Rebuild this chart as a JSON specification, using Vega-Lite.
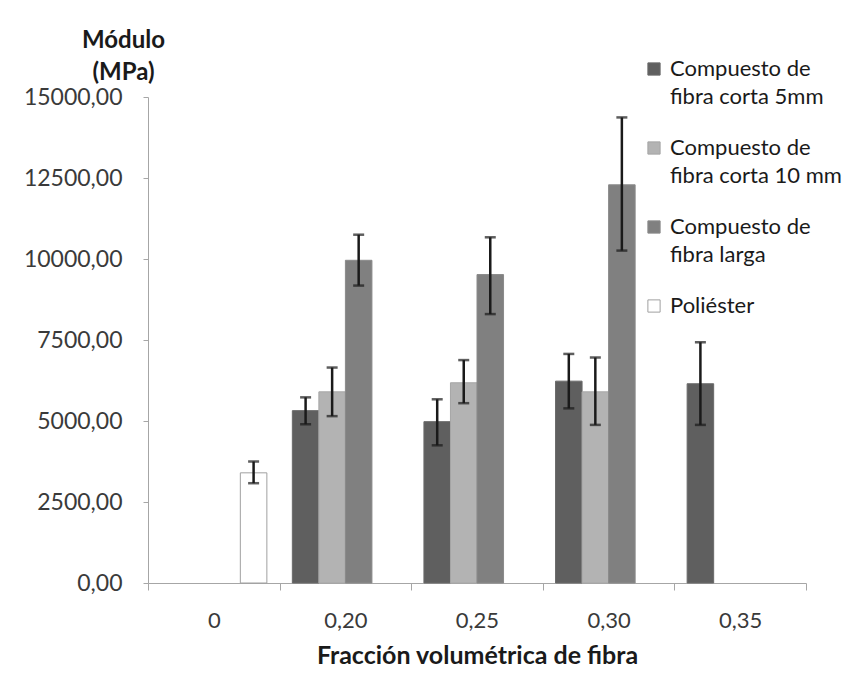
{
  "$schema": "https://vega.github.io/schema/vega-lite/v6.json",
  "width": 658,
  "height": 486,
  "autosize": {"type": "none"},
  "padding": {"left": 148, "top": 97, "right": 51, "bottom": 98},
  "background": "white",
  "config": {
    "view": {"stroke": null},
    "font": "Lato",
    "style": {"guide-label": {"lineHeight": 28}},
    "axis": {"grid": false, "domainColor": "#a6a6a6", "tickColor": "#a6a6a6", "labelColor": "#3a3a3a", "labelFontSize": 22, "titleFontSize": 24, "titleColor": "#1a1a1a", "titleFontWeight": "bold", "labelFont": "Lato", "titleFont": "Lato"}
  },
  "data": {
    "values": [
      {"fraccion": "0", "serie": "Poliéster", "valor": 3400, "lo": 3080, "hi": 3750},
      {"fraccion": "0,20", "serie": "5mm", "valor": 5320, "lo": 4900, "hi": 5730},
      {"fraccion": "0,20", "serie": "10mm", "valor": 5900, "lo": 5150, "hi": 6650},
      {"fraccion": "0,20", "serie": "larga", "valor": 9960, "lo": 9180, "hi": 10750},
      {"fraccion": "0,25", "serie": "5mm", "valor": 4980, "lo": 4250, "hi": 5670},
      {"fraccion": "0,25", "serie": "10mm", "valor": 6180, "lo": 5550, "hi": 6880},
      {"fraccion": "0,25", "serie": "larga", "valor": 9520, "lo": 8300, "hi": 10670},
      {"fraccion": "0,30", "serie": "5mm", "valor": 6230, "lo": 5390, "hi": 7070},
      {"fraccion": "0,30", "serie": "10mm", "valor": 5900, "lo": 4880, "hi": 6960},
      {"fraccion": "0,30", "serie": "larga", "valor": 12290, "lo": 10260, "hi": 14370},
      {"fraccion": "0,35", "serie": "5mm", "valor": 6150, "lo": 4880, "hi": 7430}
    ]
  },
  "encoding": {
    "x": {
      "field": "fraccion", "type": "nominal",
      "sort": ["0", "0,20", "0,25", "0,30", "0,35"],
      "scale": {"domain": ["0", "0,20", "0,25", "0,30", "0,35"], "paddingInner": 0, "paddingOuter": 0},
      "axis": {"title": "Fracción volumétrica de fibra", "titleFontSize": 25, "labelAngle": 0, "tickBand": "extent", "tickSize": 7, "labelPadding": 20, "titlePadding": 12}
    },
    "xOffset": {
      "field": "serie", "type": "nominal",
      "scale": {"domain": ["5mm", "10mm", "larga", "Poliéster"], "paddingInner": 0, "paddingOuter": 0.48}
    }
  },
  "layer": [
    {
      "mark": {"type": "bar", "strokeWidth": 1},
      "encoding": {
        "y": {
          "field": "valor", "type": "quantitative",
          "scale": {"domain": [0, 15000], "nice": false},
          "axis": {
            "values": [0, 2500, 5000, 7500, 10000, 12500, 15000],
            "labelExpr": "replace(format(datum.value, '.2f'), '.', ',')",
            "labelFontSize": 23,
            "tickSize": 5, "labelPadding": 21,
            "title": ["Módulo", "(MPa)"],
            "titleAngle": 0, "titleAlign": "center", "titleBaseline": "alphabetic",
            "titleX": -25, "titleY": -50, "titleLineHeight": 32
          }
        },
        "fill": {
          "field": "serie", "type": "nominal",
          "scale": {"domain": ["5mm", "10mm", "larga", "Poliéster"], "range": ["#5f5f5f", "#b3b3b3", "#808080", "#ffffff"]},
          "legend": {
            "orient": "none", "legendX": 495, "legendY": -39,
            "title": null,
            "symbolType": "square", "symbolSize": 150, "symbolStrokeColor": "#8c8c8c", "symbolStrokeWidth": 1,
            "labelFontSize": 22, "labelColor": "#1a1a1a", "labelFont": "Lato", "labelOffset": 5,
            "labelBaseline": "middle",
            "labelExpr": "datum.label == '5mm' ? ['Compuesto de', 'fibra corta 5mm'] : datum.label == '10mm' ? ['Compuesto de', 'fibra corta 10 mm'] : datum.label == 'larga' ? ['Compuesto de', 'fibra larga'] : 'Poliéster'",
            "rowPadding": 29, "labelLimit": 300
          }
        },
        "stroke": {
          "field": "serie", "type": "nominal",
          "scale": {"domain": ["5mm", "10mm", "larga", "Poliéster"], "range": ["#6a6a6a", "#a6a6a6", "#8a8a8a", "#a0a0a0"]},
          "legend": null
        }
      }
    },
    {
      "mark": {"type": "rule", "color": "#1a1a1a", "strokeWidth": 2.5},
      "encoding": {
        "y": {"field": "lo", "type": "quantitative"},
        "y2": {"field": "hi"}
      }
    },
    {
      "mark": {"type": "tick", "color": "#1a1a1a", "thickness": 2.5, "size": 11},
      "encoding": {"y": {"field": "lo", "type": "quantitative"}}
    },
    {
      "mark": {"type": "tick", "color": "#1a1a1a", "thickness": 2.5, "size": 11},
      "encoding": {"y": {"field": "hi", "type": "quantitative"}}
    }
  ]
}
